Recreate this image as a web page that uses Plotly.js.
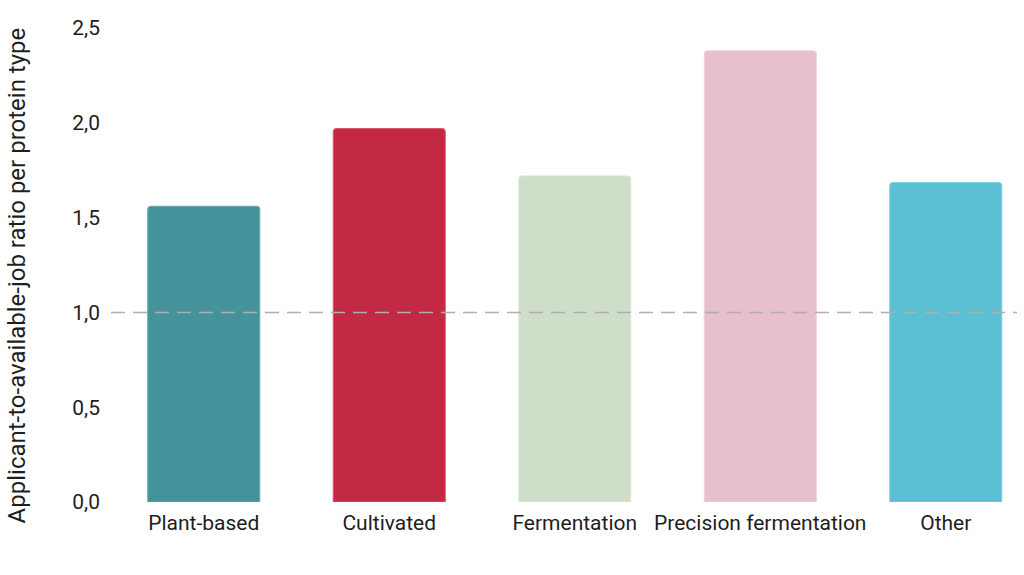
<!DOCTYPE html>
<html>
<head>
<meta charset="utf-8">
<script src="https://cdn.plot.ly/plotly-3.0.1.min.js"></script>
<style>html,body{margin:0;padding:0;background:#fff;}#chart{width:1024px;height:575px;}</style>
</head>
<body>
<div id="chart"></div>
<script>
const categories = ["Plant-based", "Cultivated", "Fermentation", "Precision fermentation", "Other"];
const ratios = [1.56, 1.97, 1.72, 2.38, 1.685];
const barColors = ["#45939A", "#C42943", "#CFDEC8", "#E8BFCD", "#5BC0D3"];
const lineColors = ["#6AAAB0", "#D8596D", "#DCE8D6", "#F0D0DB", "#7DCFDE"];
const referenceValue = 1.0;
const yTicks = [0, 0.5, 1, 1.5, 2, 2.5];
const yTitle = "Applicant-to-available-job ratio per protein type";

const trace = {
  type: "bar",
  x: categories,
  y: ratios,
  marker: { color: barColors, line: { color: lineColors, width: 1 }, cornerradius: 3 },
  hoverinfo: "x+y"
};

const layout = {
  width: 1024, height: 575,
  margin: { l: 111, r: 7, t: 28, b: 73, pad: 0 },
  paper_bgcolor: "#ffffff",
  plot_bgcolor: "#ffffff",
  separators: ", ",
  font: { family: "Roboto, 'Open Sans', sans-serif", size: 21, color: "#1e1e1e" },
  bargap: 0.396,
  showlegend: false,
  xaxis: {
    range: [-0.5, 4.384],
    showgrid: false, zeroline: false, showline: false, ticks: "",
    tickfont: { size: 21, color: "#1e1e1e" },
    ticklabelstandoff: 6,
    fixedrange: true
  },
  yaxis: {
    range: [0, 2.5],
    tickvals: yTicks,
    tickformat: ".1f",
    showgrid: false, zeroline: false, showline: false, ticks: "",
    tickfont: { size: 21, color: "#1e1e1e" },
    ticklabelstandoff: 10,
    fixedrange: true
  },
  annotations: [{
    text: yTitle, textangle: -90,
    xref: "paper", yref: "paper", x: -0.1038, y: 0.478,
    xanchor: "center", yanchor: "middle", showarrow: false,
    font: { size: 24, color: "#1e1e1e" }
  }],
  shapes: [{
    type: "line", xref: "paper", x0: 0, x1: 1, yref: "y", y0: referenceValue, y1: referenceValue,
    line: { color: "#AFAFAF", width: 1.5, dash: "14px,8px" },
    layer: "above"
  }]
};

Plotly.newPlot("chart", [trace], layout, { displayModeBar: false, staticPlot: true });
</script>
</body>
</html>
